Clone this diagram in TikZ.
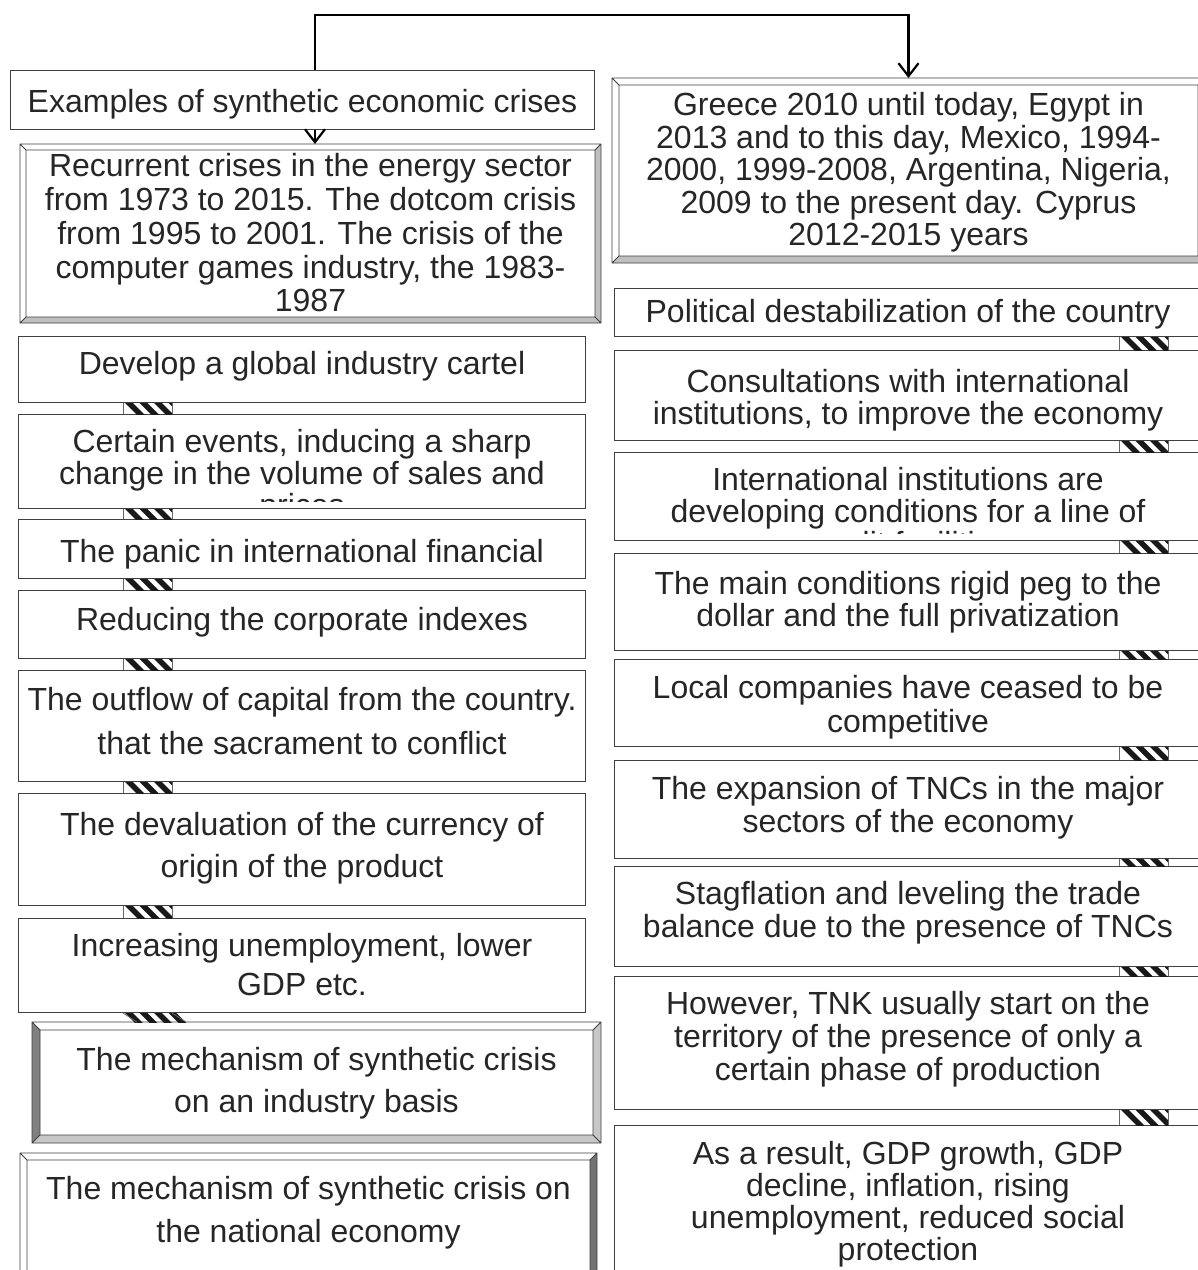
\documentclass[tikz,border=0pt]{standalone}
\usepackage{fontspec}
\setmainfont{Liberation Sans}
\usetikzlibrary{arrows.meta}

\tikzset{
  cellbox/.style={draw=black!75, line width=1pt, fill=white, anchor=north west, inner sep=0pt},
  celltext/.style n args={3}{path picture={
      \clip ([yshift=7pt]path picture bounding box.south west) rectangle (path picture bounding box.north east);
      \node[anchor=north, align=center, inner sep=0pt, draw=none, fill=none, minimum width=0pt, minimum height=0pt,
        text=black!85, font=\fontsize{32}{#2}\selectfont]
        at ([yshift=-#1pt]path picture bounding box.north) {#3};}},
  conn/.style={line width=2.2pt, -{Straight Barb[length=13pt,width=20pt]}},
}

\newcommand{\stripebar}[3]{%
  \begin{scope}
    \clip ([xshift=#3pt]#1.south west) rectangle ([xshift=#3pt+49pt]#2.north west);
    \foreach \k in {2,16.5,31,45.5}
      \draw[line width=5.5pt, black!90] ([xshift=#3pt+\k pt, yshift=4pt]#1.south west) -- ++(22,22);
  \end{scope}
  \draw[black!60, line width=0.8pt] ([xshift=#3pt]#1.south west) -- ([xshift=#3pt]#2.north west)
    ([xshift=#3pt+49pt]#1.south west) -- ([xshift=#3pt+49pt]#2.north west);
}

\newcommand{\bevel}[6]{%
  \fill[#2] (#1.north west) -- (#1.north east) -- ([shift={(-#6pt,-#6pt)}]#1.north east) -- ([shift={(#6pt,-#6pt)}]#1.north west) -- cycle;
  \fill[#3] (#1.north west) -- ([shift={(#6pt,-#6pt)}]#1.north west) -- ([shift={(#6pt,#6pt)}]#1.south west) -- (#1.south west) -- cycle;
  \fill[#4] (#1.south west) -- ([shift={(#6pt,#6pt)}]#1.south west) -- ([shift={(-#6pt,#6pt)}]#1.south east) -- (#1.south east) -- cycle;
  \fill[#5] (#1.south east) -- ([shift={(-#6pt,#6pt)}]#1.south east) -- ([shift={(-#6pt,-#6pt)}]#1.north east) -- (#1.north east) -- cycle;
  \draw[black!75, line width=0.8pt] (#1.north west) rectangle (#1.south east)
    ([shift={(#6pt,-#6pt)}]#1.north west) rectangle ([shift={(-#6pt,#6pt)}]#1.south east)
    (#1.north west) -- ++(#6pt,-#6pt) (#1.north east) -- ++(-#6pt,-#6pt)
    (#1.south west) -- ++(#6pt,#6pt) (#1.south east) -- ++(-#6pt,#6pt);
}

\begin{document}
\begin{tikzpicture}[x=1pt,y=-1pt]
\useasboundingbox[fill=white] (0,0) rectangle (1198,1270);

\node[cellbox, minimum width=584pt, minimum height=59pt, celltext={18}{34}{Examples of synthetic economic crises}] (ex) at (10,70) {};
\node[cellbox, minimum width=580pt, minimum height=178pt, celltext={8.5}{33.8}{Recurrent crises in the energy sector\\from 1973 to 2015. The dotcom crisis\\from 1995 to 2001. The crisis of the\\computer games industry, the 1983-\\1987}] (rec) at (20,144) {};
\bevel{rec}{white}{white}{black!25}{black!25}{6}
\node[cellbox, minimum width=592pt, minimum height=184pt, celltext={13.5}{32.5}{Greece 2010 until today, Egypt in\\2013 and to this day, Mexico, 1994-\\2000, 1999-2008, Argentina, Nigeria,\\2009 to the present day. Cyprus\\2012-2015 years}] (gre) at (612,78) {};
\bevel{gre}{white}{white}{black!25}{black!25}{7}

\node[cellbox, minimum width=567pt, minimum height=66pt, celltext={14.5}{34}{Develop a global industry cartel}] (dev) at (18,336) {};
\node[cellbox, minimum width=567pt, minimum height=94pt, celltext={14.5}{32}{Certain events, inducing a sharp\\change in the volume of sales and\\prices}] (cert) at (18,414) {};
\node[cellbox, minimum width=567pt, minimum height=59pt, celltext={19}{34}{The panic in international financial}] (panic) at (18,519) {};
\node[cellbox, minimum width=567pt, minimum height=68pt, celltext={16.5}{34}{Reducing the corporate indexes}] (red) at (18,590) {};
\node[cellbox, minimum width=567pt, minimum height=111pt, celltext={16.5}{44}{The outflow of capital from the country.\\that the sacrament to conflict}] (out) at (18,670) {};
\node[cellbox, minimum width=567pt, minimum height=112pt, celltext={18.5}{42}{The devaluation of the currency of\\origin of the product}] (deval) at (18,793) {};
\node[cellbox, minimum width=567pt, minimum height=94pt, celltext={14.5}{39}{Increasing unemployment, lower\\GDP etc.}] (inc) at (18,918) {};
\node[cellbox, minimum width=568pt, minimum height=120pt, celltext={24.5}{42}{The mechanism of synthetic crisis\\on an industry basis}] (ind) at (32,1022) {};
\bevel{ind}{white}{black!50}{black!22}{black!22}{8}
\node[cellbox, minimum width=576pt, minimum height=140pt, celltext={22.5}{43}{The mechanism of synthetic crisis on\\the national economy}] (nat) at (20,1153) {};
\bevel{nat}{white}{white}{black!25}{black!55}{7}

\node[cellbox, minimum width=587pt, minimum height=48pt, celltext={10.5}{34}{Political destabilization of the country}] (pol) at (614,288) {};
\node[cellbox, minimum width=587pt, minimum height=90pt, celltext={18.5}{32}{Consultations with international\\institutions, to improve the economy}] (con) at (614,350) {};
\node[cellbox, minimum width=587pt, minimum height=88pt, celltext={14.5}{32}{International institutions are\\developing conditions for a line of\\credit facilities}] (inst) at (614,452) {};
\node[cellbox, minimum width=587pt, minimum height=97pt, celltext={17.5}{32}{The main conditions rigid peg to the\\dollar and the full privatization}] (main) at (614,553) {};
\node[cellbox, minimum width=587pt, minimum height=87pt, celltext={15.5}{34}{Local companies have ceased to be\\competitive}] (loc) at (614,659) {};
\node[cellbox, minimum width=587pt, minimum height=98pt, celltext={15.5}{33}{The expansion of TNCs in the major\\sectors of the economy}] (tnc) at (614,760) {};
\node[cellbox, minimum width=587pt, minimum height=100pt, celltext={14.5}{33}{Stagflation and leveling the trade\\balance due to the presence of TNCs}] (stag) at (614,866) {};
\node[cellbox, minimum width=587pt, minimum height=133pt, celltext={14.5}{33}{However, TNK usually start on the\\territory of the presence of only a\\certain phase of production}] (tnk) at (614,976) {};
\node[cellbox, minimum width=587pt, minimum height=170pt, celltext={15.5}{32}{As a result, GDP growth, GDP\\decline, inflation, rising\\unemployment, reduced social\\protection}] (res) at (614,1125) {};

\coordinate (split) at (315,15);
\draw[conn] (ex.north -| split) -- (split) -| (gre.north);
\draw[conn] (ex.south -| split) -- (rec.north -| split);

\foreach \a/\b in {dev/cert, cert/panic, panic/red, red/out, out/deval, deval/inc, inc/ind}
  \stripebar{\a}{\b}{105};
\foreach \a/\b in {pol/con, con/inst, inst/main, main/loc, loc/tnc, tnc/stag, stag/tnk, tnk/res}
  \stripebar{\a}{\b}{505};

\end{tikzpicture}
\end{document}
